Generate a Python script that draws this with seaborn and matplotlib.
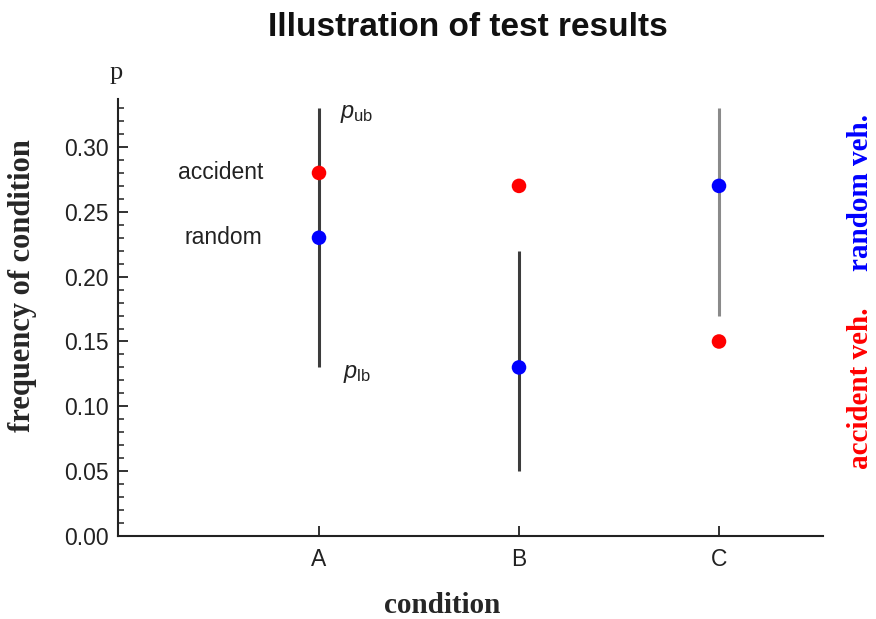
import matplotlib
matplotlib.use("Agg")
import matplotlib.pyplot as plt
from matplotlib.ticker import MultipleLocator, FormatStrFormatter
import seaborn as sns
import pandas as pd

# ---- data ----
categories = ["A", "B", "C"]
accident_vals = [0.28, 0.27, 0.15]
random_vals = [0.23, 0.13, 0.27]
p_lower = [0.13, 0.05, 0.17]
p_upper = [0.33, 0.22, 0.33]
yticks = [0.00, 0.05, 0.10, 0.15, 0.20, 0.25, 0.30]

sns.set_style("ticks")
plt.rcParams["font.family"] = ["Liberation Sans", "DejaVu Sans"]
plt.rcParams["mathtext.fontset"] = "custom"
plt.rcParams["mathtext.it"] = "Liberation Sans:italic"
plt.rcParams["mathtext.rm"] = "Liberation Sans"

df = pd.DataFrame({
    "condition": categories * 2,
    "frequency": accident_vals + random_vals,
    "group": ["accident"] * 3 + ["random"] * 3,
})

fig = plt.figure(figsize=(8.76, 6.19), dpi=100)
ax = fig.add_axes([118 / 876, 1 - 536 / 619, (823 - 118) / 876, (536 - 99) / 619])

bar_colors = ["#3c3c3c", "#3c3c3c", "#8a8a8a"]
ax.vlines(categories, p_lower, p_upper, colors=bar_colors, linewidth=2.2, zorder=2)

sns.scatterplot(data=df, x="condition", y="frequency", hue="group",
                palette={"accident": "#ff0000", "random": "#0000ff"},
                s=110, linewidth=0, legend=False, ax=ax, zorder=3)

ax.set_xlim(-1.005, 2.52)
ax.set_ylim(0, 0.337)
ax.set_yticks(yticks)
ax.yaxis.set_major_formatter(FormatStrFormatter("%.2f"))
ax.yaxis.set_minor_locator(MultipleLocator(0.01))

for s in ["top", "right"]:
    ax.spines[s].set_visible(False)
for s in ["left", "bottom"]:
    ax.spines[s].set_linewidth(1.5)
    ax.spines[s].set_color("#222222")

ax.tick_params(axis="both", which="major", direction="in", length=7, width=1.3,
               color="#222222", labelsize=16.5, labelcolor="#222222")
ax.tick_params(axis="y", which="minor", direction="in", length=4, width=1.1, color="#222222")
ax.tick_params(axis="y", which="major", pad=7)
ax.tick_params(axis="x", which="major", pad=9)

# axis labels
ax.set_ylabel("frequency of condition", family="Liberation Serif", fontweight="bold",
              fontsize=22, va="center")
ax.yaxis.set_label_coords(-0.135, 0.572)
ax.set_xlabel("condition", family="Liberation Serif", fontweight="bold",
              fontsize=21, va="center")
ax.xaxis.set_label_coords(0.4596, -0.160)

# annotations
ax.annotate("accident", xy=(categories[0], accident_vals[0]), xytext=(-40, 0),
            textcoords="offset points", ha="right", va="center", fontsize=16.5,
            color="#222222")
ax.annotate("random", xy=(categories[0], random_vals[0]), xytext=(-41, 0),
            textcoords="offset points", ha="right", va="center", fontsize=16.5,
            color="#222222")
ax.annotate(r"$p_{\mathrm{ub}}$", xy=(categories[0], p_upper[0]), xytext=(15, -4),
            textcoords="offset points", ha="left", va="center", fontsize=17,
            color="#222222")
ax.annotate(r"$p_{\mathrm{lb}}$", xy=(categories[0], p_lower[0]), xytext=(17, -5),
            textcoords="offset points", ha="left", va="center", fontsize=17,
            color="#222222")

# title and side texts
fig.text(467.5 / 876, 1 - 27 / 619, "Illustration of test results", ha="center", va="center",
         fontsize=24, fontweight="bold", color="#111111")
fig.text(116 / 876, 1 - 79 / 619, "p", ha="center", va="baseline",
         family="Liberation Serif", fontsize=19, color="#222222")
fig.text(860 / 876, 1 - 192 / 619, "random veh.", rotation=90, ha="center", va="center",
         family="Liberation Serif", fontweight="bold", fontsize=21, color="#0000ff")
fig.text(860 / 876, 1 - 388 / 619, "accident veh.", rotation=90, ha="center", va="center",
         family="Liberation Serif", fontweight="bold", fontsize=21, color="#ff0000")

fig.savefig("out.png", dpi=100)
